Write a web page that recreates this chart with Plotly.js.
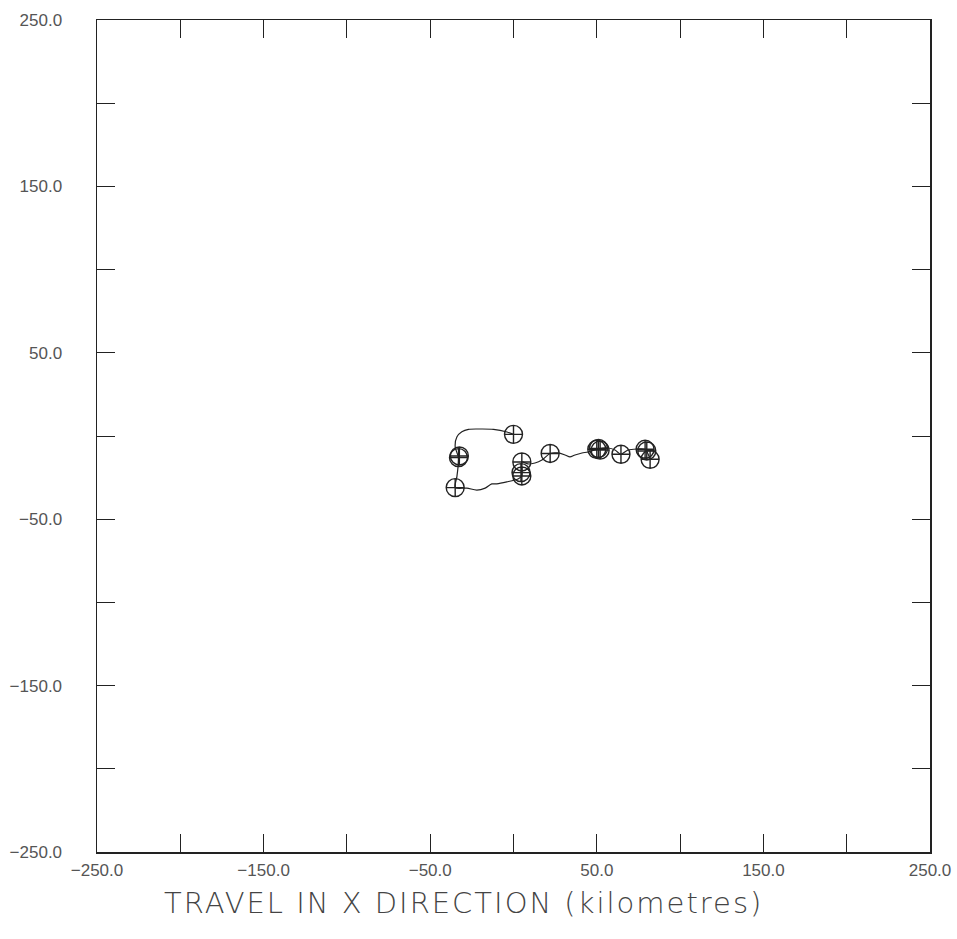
<!DOCTYPE html>
<html>
<head>
<meta charset="utf-8">
<script src="https://cdn.plot.ly/plotly-3.0.1.min.js"></script>
<style>html,body{margin:0;padding:0;background:#fff;}#chart{width:957px;height:939px;}
.annotation-text{letter-spacing:2px;}</style>
</head>
<body>
<div id="chart"></div>
<script>
// Track of travel (kilometres)
const pathX = [0, -3.9, -12, -20, -27, -31, -34, -35, -33, -33.3, -34, -35, -28, -22, -17, -13, -10, -4, 2.7, 5, 5, 8.7, 12.9, 17.1, 22, 26.7, 30.9, 33.9, 36.9, 41.1, 44.7, 50, 56.7, 60.9, 64.5, 68.7, 74.1, 79, 82];
const pathY = [1, 2.4, 4, 4.2, 4, 2.5, -0.6, -6.6, -13, -18.6, -24.6, -31, -31.3, -32.5, -31.3, -28.8, -28.8, -27.6, -25.8, -24, -15.6, -16.8, -16.2, -14.4, -10.5, -10.2, -11.4, -12.6, -11.4, -10.2, -9.6, -8, -7.2, -8.4, -11, -8.4, -7.8, -8, -14];
// Fix positions (circle markers)
const fixX = [0, -33, -32.5, -35, 5, 4.5, 5, 22, 50, 51, 52, 64.5, 79, 80, 82];
const fixY = [1, -13, -12, -31, -24, -22, -15.6, -10.5, -8, -7.5, -8.5, -11, -8, -9, -14];
// Axis ticks
const tickVals = [-250, -200, -150, -100, -50, 0, 50, 100, 150, 200, 250];
const tickText = ['\u2212250.0', '', '\u2212150.0', '', '\u221250.0', '', '50.0', '', '150.0', '', '250.0'];
const xTitle = 'TRAVEL IN X DIRECTION (kilometres)';

const traces = [
  {x: pathX, y: pathY, mode: 'lines', type: 'scatter',
   line: {color: '#222', width: 1.2, shape: 'spline', smoothing: 0.8}, hoverinfo: 'skip'},
  {x: fixX, y: fixY, mode: 'markers', type: 'scatter',
   marker: {symbol: 'circle-cross-open', size: 18, color: '#222', line: {width: 1.4, color: '#222'}}}
];
const axisCommon = {
  range: [-250, 250], showgrid: false, zeroline: false,
  showline: true, linecolor: '#222', linewidth: 1.5, mirror: 'allticks',
  ticks: 'inside', ticklen: 18, tickwidth: 1, tickcolor: '#222',
  tickmode: 'array', tickvals: tickVals, ticktext: tickText,
  tickfont: {family: 'Liberation Sans, Arial, sans-serif', size: 17, color: '#555'}
};
const layout = {
  width: 957, height: 939,
  margin: {l: 97, r: 27, t: 20, b: 87},
  paper_bgcolor: '#fff', plot_bgcolor: '#fff',
  showlegend: false,
  xaxis: Object.assign({}, axisCommon, {ticklabelstandoff: 2}),
  yaxis: Object.assign({}, axisCommon, {ticklabelstandoff: 30}),
  annotations: [{
    text: xTitle, xref: 'paper', yref: 'paper', x: (463 - 97) / 833, y: 0,
    yshift: -51, showarrow: false, xanchor: 'center', yanchor: 'middle',
    font: {family: 'DejaVu Sans, sans-serif', weight: 200, size: 29, color: '#444'}
  }]
};
Plotly.newPlot('chart', traces, layout, {displayModeBar: false, staticPlot: true});
</script>
</body>
</html>
